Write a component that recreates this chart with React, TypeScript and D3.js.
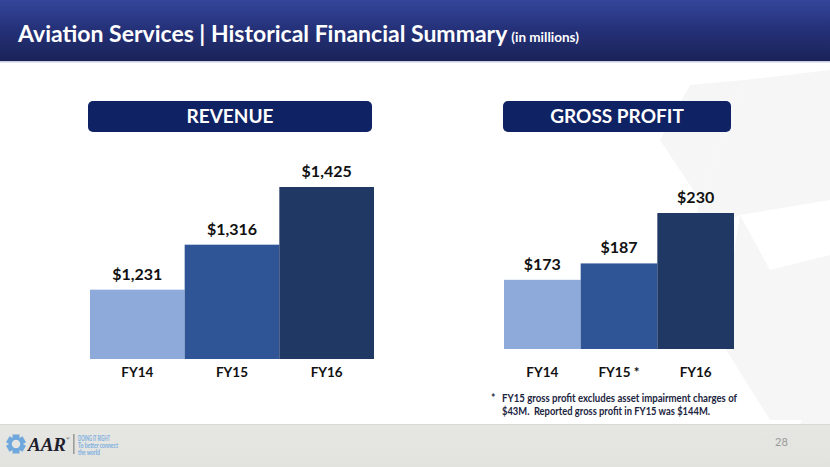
import React from "react";
import * as d3 from "d3";

const categories = ["FY14", "FY15", "FY16"];
const gpCategories = ["FY14", "FY15 *", "FY16"];
const revenue = [1231, 1316, 1425];
const grossProfit = [173, 187, 230];
const revenueLabels = ["$1,231", "$1,316", "$1,425"];
const gpLabels = ["$173", "$187", "$230"];
const barColors = ["#8eaadb", "#2f5597", "#203864"];

const W = 830;
const H = 467;
const FONT = "Lato, 'Open Sans', sans-serif";

type PanelProps = {
  title: string;
  cats: string[];
  values: number[];
  labels: string[];
  x0: number;
  x1: number;
  base: number;
  domain: [number, number];
  range: [number, number];
  boxX0: number;
  boxX1: number;
};

function Panel(p: PanelProps) {
  const x = d3.scaleBand<string>().domain(p.cats).range([p.x0, p.x1]).padding(0);
  const y = d3.scaleLinear().domain(p.domain).range(p.range);
  return (
    <g>
      <rect x={p.boxX0} y={101} width={p.boxX1 - p.boxX0} height={31} rx={5} fill="#0f2263" />
      <text x={(p.boxX0 + p.boxX1) / 2} y={123} textAnchor="middle" fill="#fff" fontFamily={FONT} fontWeight={700} fontSize={19}>
        {p.title}
      </text>
      {p.values.map((v, i) => {
        const c = p.cats[i];
        const top = y(v);
        return (
          <g key={c}>
            <rect x={x(c)} y={top} width={x.bandwidth()} height={p.base - top} fill={barColors[i]} />
            <text x={(x(c) as number) + x.bandwidth() / 2} y={top - 10} textAnchor="middle" fill="#111" fontFamily={FONT} fontWeight={700} fontSize={16}>
              {p.labels[i]}
            </text>
            <text x={(x(c) as number) + x.bandwidth() / 2} y={377} textAnchor="middle" fill="#111" fontFamily={FONT} fontWeight={700} fontSize={13.5}>
              {c}
            </text>
          </g>
        );
      })}
    </g>
  );
}

export default function App() {
  return (
    <div style={{ position: "absolute", left: 0, top: 0 }}>
      <svg width={W} height={H} style={{ display: "block" }}>
        <defs>
          <linearGradient id="hdr" x1="0" y1="0" x2="0" y2="1">
            <stop offset="0" stopColor="#34459a" />
            <stop offset="0.45" stopColor="#25327a" />
            <stop offset="1" stopColor="#1a2257" />
          </linearGradient>
          <linearGradient id="ftr" x1="0" y1="0" x2="0" y2="1">
            <stop offset="0" stopColor="#e6e6e2" />
            <stop offset="1" stopColor="#e2e2de" />
          </linearGradient>
        </defs>
        <rect width={W} height={H} fill="#ffffff" />
        {/* watermark shapes */}
        <g fill="#f6f6f6">
          <polygon points="745,80 830,70 830,200 740,215 690,240 700,200" />
          <polygon points="690,85 745,80 700,200 660,140" />
          <polygon points="770,270 830,255 830,420 770,420" />
          <polygon points="740,215 770,270 770,420 720,340" />
          <polygon points="810,400 830,380 830,424 800,424" />
        </g>
        {/* header */}
        <rect x={0} y={0} width={W} height={62} fill="url(#hdr)" />
        <rect x={0} y={61} width={W} height={1.5} fill="#c9cde0" />
        <text x={18} y={42} fill="#fff" fontFamily={FONT} fontWeight={700} fontSize={23}>
          Aviation Services | Historical Financial Summary
          <tspan fontSize={13.5} dx={4}>(in millions)</tspan>
        </text>

        <Panel
          title="REVENUE"
          cats={categories}
          values={revenue}
          labels={revenueLabels}
          x0={90}
          x1={374}
          base={359}
          domain={[1100, 1425]}
          range={[359, 187]}
          boxX0={88}
          boxX1={372}
        />
        <Panel
          title="GROSS PROFIT"
          cats={gpCategories}
          values={grossProfit}
          labels={gpLabels}
          x0={504}
          x1={734}
          base={349}
          domain={[114, 230]}
          range={[349, 213]}
          boxX0={503}
          boxX1={731}
        />

        <g fontFamily={FONT} fontWeight={700} fontSize={10.5} fill="#1b2440">
          <text x={491} y={402}>*</text>
          <text x={502} y={402} textLength={235} lengthAdjust="spacingAndGlyphs">FY15 gross profit excludes asset impairment charges of</text>
          <text x={502} y={415} textLength={208} lengthAdjust="spacingAndGlyphs" style={{ whiteSpace: "pre" }}>{"$43M.  Reported gross profit in FY15 was $144M."}</text>
        </g>

        {/* footer */}
        <rect x={0} y={424} width={W} height={43} fill="url(#ftr)" />
        <rect x={0} y={424} width={W} height={1} fill="#d8d8d4" />
        <g transform="translate(16,444)">
          {d3.range(6).map((i) => (
            <rect key={i} x={-3.5} y={-9.5} width={7} height={5} fill="#6fa8dc" transform={`rotate(${i * 60})`} />
          ))}
          <circle r={5.5} fill="none" stroke="#6fa8dc" strokeWidth={2.5} />
        </g>
        <text x={28} y={451} fontFamily="'Liberation Serif', serif" fontStyle="italic" fontWeight={700} fontSize={19} fill="#1e1e2e">
          AAR
        </text>
        <text x={66} y={440} fontFamily="'Liberation Serif', serif" fontSize={5} fill="#333">®</text>
        <rect x={73.5} y={434} width={0.8} height={20} fill="#555" />
        <g fontFamily={FONT} fontSize={6.5} fill="#7aaee0" fontWeight={700}>
          <text x={78} y={441} textLength={32} lengthAdjust="spacingAndGlyphs">DOING IT RIGHT</text>
          <text x={78} y={448} textLength={40} lengthAdjust="spacingAndGlyphs">To better connect</text>
          <text x={78} y={455} textLength={22} lengthAdjust="spacingAndGlyphs">the world</text>
        </g>
        <text x={775} y={446} fontFamily={FONT} fontSize={11} fill="#9a9a9a">28</text>
      </svg>
    </div>
  );
}
